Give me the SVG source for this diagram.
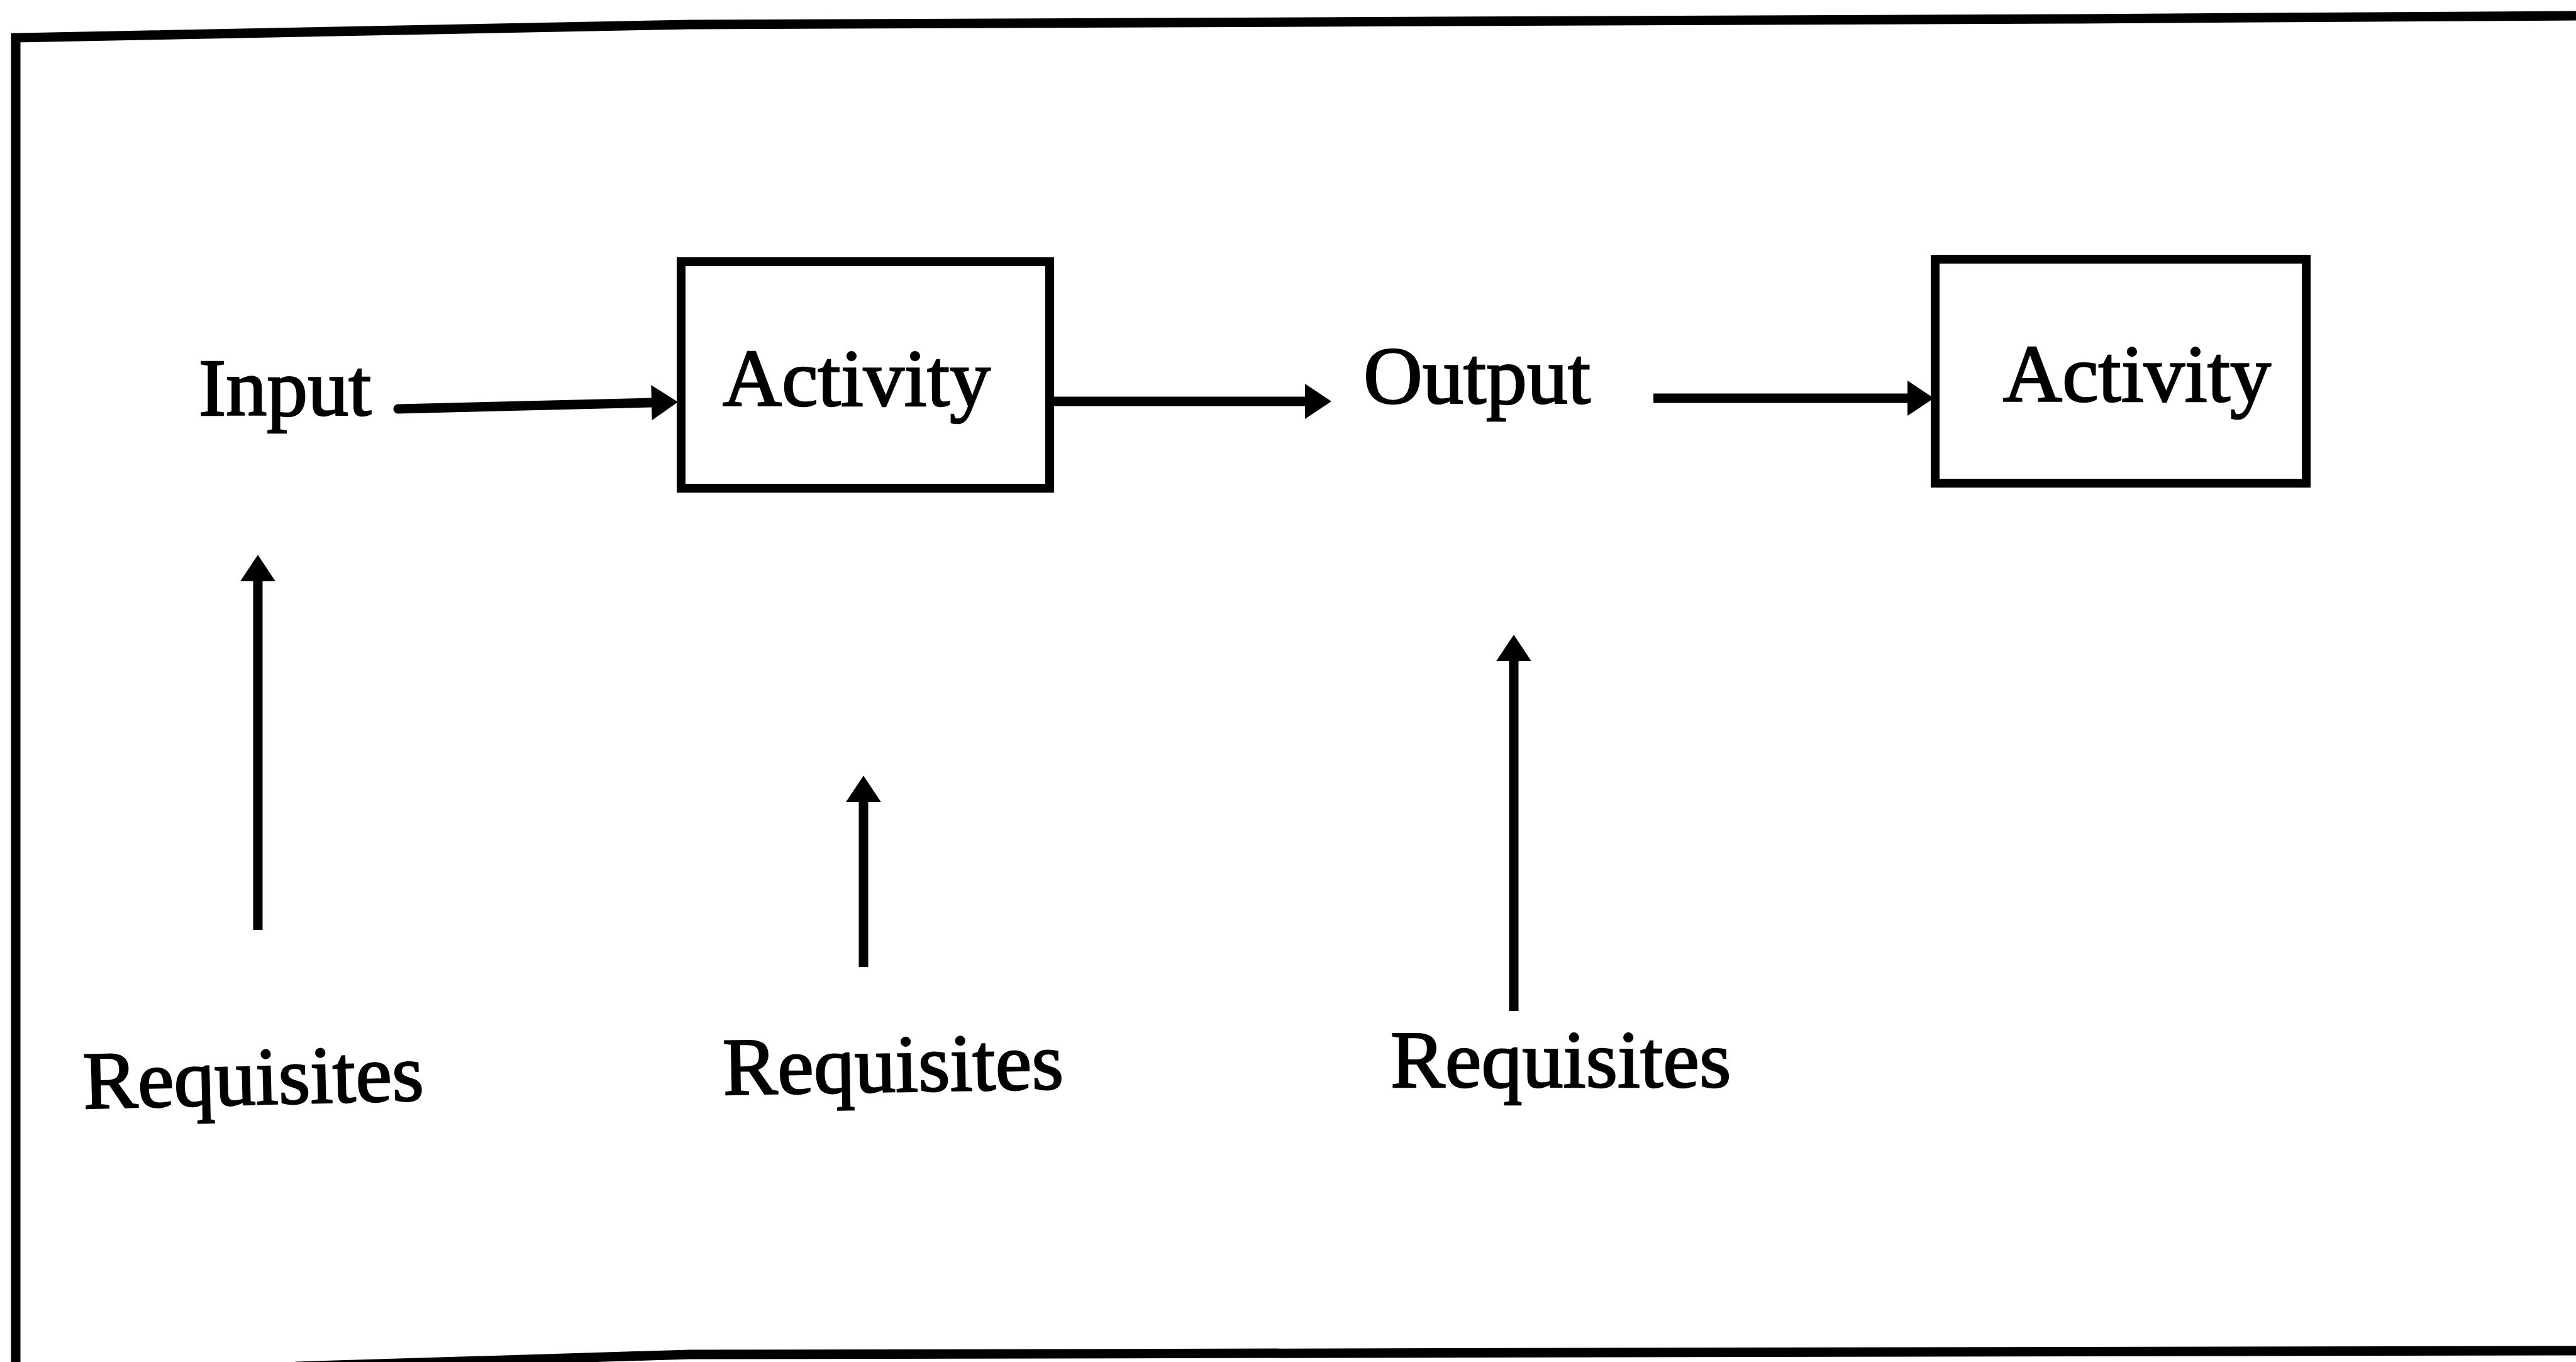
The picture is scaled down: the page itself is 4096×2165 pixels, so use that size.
<svg xmlns="http://www.w3.org/2000/svg" width="4096" height="2165" viewBox="0 0 4096 2165">
  <style>
    .frame { fill: none; stroke: #000; stroke-width: 15; stroke-linejoin: miter; }
    .box { fill: #fff; stroke: #000; stroke-width: 14; }
    .label { font-family: "Liberation Serif", "Times New Roman", serif; font-size: 130px; fill: #000; stroke: #000; stroke-width: 2.5; }
    .conn { fill: none; stroke: #000; stroke-width: 15; }
  </style>
  <defs>
    <marker id="head" markerUnits="userSpaceOnUse" viewBox="0 0 42 56" refX="0" refY="28" markerWidth="42" markerHeight="56" orient="auto" overflow="visible">
      <path d="M0,0 L42,28 L0,56 Z" fill="#000"/>
    </marker>
  </defs>
  <rect width="4096" height="2165" fill="#fff"/>

  <!-- outer border (open on the right, bottom-left corner cut away) -->
  <g id="border">
    <polyline class="frame" points="25,2165 25,60 1096,39 3287,30 4096,25"/>
    <polyline class="frame" points="470,2172 1096,2153 4096,2147"/>
  </g>

  <g id="input">
    <text class="label" x="316" y="660">Input</text>
  </g>

  <g id="activity1">
    <rect class="box" x="1083" y="416" width="586" height="360"/>
    <text class="label" x="1149" y="645">Activity</text>
  </g>

  <g id="output">
    <text class="label" x="2168" y="641">Output</text>
  </g>

  <g id="activity2">
    <rect class="box" x="3077" y="412" width="590" height="356"/>
    <text class="label" x="3185" y="638">Activity</text>
  </g>

  <g id="requisites1">
    <text class="label" x="133" y="1762" font-size="134" transform="rotate(-1.4 133 1762)">Requisites</text>
  </g>
  <g id="requisites2">
    <text class="label" x="1150" y="1740" transform="rotate(-1 1150 1740)">Requisites</text>
  </g>
  <g id="requisites3">
    <text class="label" x="2211" y="1728">Requisites</text>
  </g>

  <g id="connectors">
    <path class="conn" d="M633,650 L1036,640" stroke-linecap="round" marker-end="url(#head)"/>
    <path class="conn" d="M1676,638 L2075,638" marker-end="url(#head)"/>
    <path class="conn" d="M2629,633 L3033,633" marker-end="url(#head)"/>
    <path class="conn" d="M410,1478 L410,924" marker-end="url(#head)"/>
    <path class="conn" d="M1373,1537 L1373,1275" marker-end="url(#head)"/>
    <path class="conn" d="M2407,1607 L2407,1051" marker-end="url(#head)"/>
  </g>
</svg>
